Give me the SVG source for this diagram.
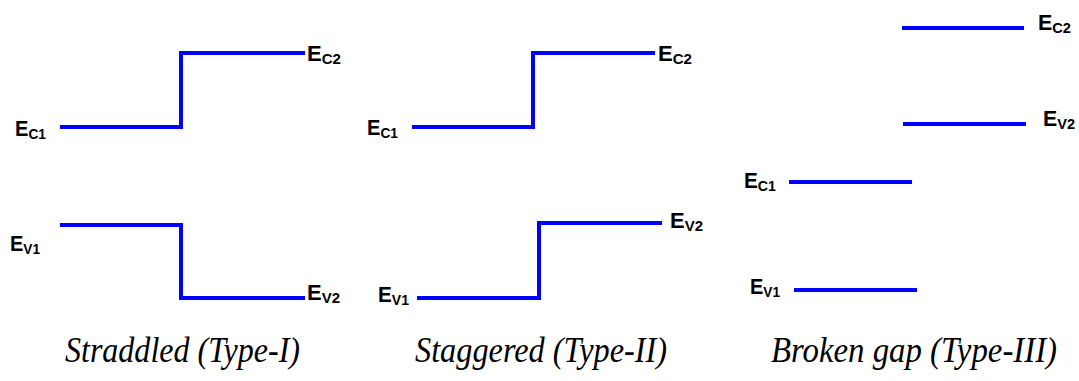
<svg xmlns="http://www.w3.org/2000/svg" width="1079" height="381" viewBox="0 0 1079 381">
<style>
.band{fill:none;stroke:#0000ff;stroke-width:4;stroke-linejoin:miter;stroke-linecap:butt}
.lbl{font-family:"Liberation Sans",Arial,sans-serif;font-weight:bold;font-size:22px;fill:#000}
.sub{font-size:15px}
.cap{font-family:"Liberation Serif","Times New Roman",serif;font-style:italic;font-size:35px;fill:#000}
</style>
<rect width="1079" height="381" fill="#fff"/>
<g id="connectors">
<path class="band" d="M60,127 H181 V53 H305"/>
<path class="band" d="M60,225 H181 V298 H305"/>
<path class="band" d="M412,127 H533 V53 H655"/>
<path class="band" d="M417,298 H539 V223 H662"/>
<path class="band" d="M902,28 H1024"/>
<path class="band" d="M903,124 H1026"/>
<path class="band" d="M789,182 H912"/>
<path class="band" d="M794,290 H917"/>
</g>
<g id="panel1">
<g id="p1-ec1"><text class="lbl" x="15" y="136" textLength="31" lengthAdjust="spacingAndGlyphs">E<tspan class="sub" dy="3">C1</tspan></text></g>
<g id="p1-ec2"><text class="lbl" x="307" y="61" textLength="34" lengthAdjust="spacingAndGlyphs">E<tspan class="sub" dy="3">C2</tspan></text></g>
<g id="p1-ev1"><text class="lbl" x="10" y="251" textLength="30" lengthAdjust="spacingAndGlyphs">E<tspan class="sub" dy="3">V1</tspan></text></g>
<g id="p1-ev2"><text class="lbl" x="307" y="300" textLength="33" lengthAdjust="spacingAndGlyphs">E<tspan class="sub" dy="3">V2</tspan></text></g>
<g id="p1-caption"><text class="cap" x="65" y="362" textLength="235" lengthAdjust="spacingAndGlyphs">Straddled (Type-I)</text></g>
</g>
<g id="panel2">
<g id="p2-ec1"><text class="lbl" x="367" y="135" textLength="31" lengthAdjust="spacingAndGlyphs">E<tspan class="sub" dy="3">C1</tspan></text></g>
<g id="p2-ec2"><text class="lbl" x="658" y="61" textLength="34" lengthAdjust="spacingAndGlyphs">E<tspan class="sub" dy="3">C2</tspan></text></g>
<g id="p2-ev1"><text class="lbl" x="378" y="302" textLength="31" lengthAdjust="spacingAndGlyphs">E<tspan class="sub" dy="3">V1</tspan></text></g>
<g id="p2-ev2"><text class="lbl" x="670" y="228" textLength="33" lengthAdjust="spacingAndGlyphs">E<tspan class="sub" dy="3">V2</tspan></text></g>
<g id="p2-caption"><text class="cap" x="415" y="362" textLength="252" lengthAdjust="spacingAndGlyphs">Staggered (Type-II)</text></g>
</g>
<g id="panel3">
<g id="p3-ec2"><text class="lbl" x="1038" y="30" textLength="33" lengthAdjust="spacingAndGlyphs">E<tspan class="sub" dy="3">C2</tspan></text></g>
<g id="p3-ev2"><text class="lbl" x="1043" y="126" textLength="32" lengthAdjust="spacingAndGlyphs">E<tspan class="sub" dy="3">V2</tspan></text></g>
<g id="p3-ec1"><text class="lbl" x="744" y="188" textLength="32" lengthAdjust="spacingAndGlyphs">E<tspan class="sub" dy="3">C1</tspan></text></g>
<g id="p3-ev1"><text class="lbl" x="750" y="294" textLength="30" lengthAdjust="spacingAndGlyphs">E<tspan class="sub" dy="3">V1</tspan></text></g>
<g id="p3-caption"><text class="cap" x="771" y="362" textLength="286" lengthAdjust="spacingAndGlyphs">Broken gap (Type-III)</text></g>
</g>
</svg>
